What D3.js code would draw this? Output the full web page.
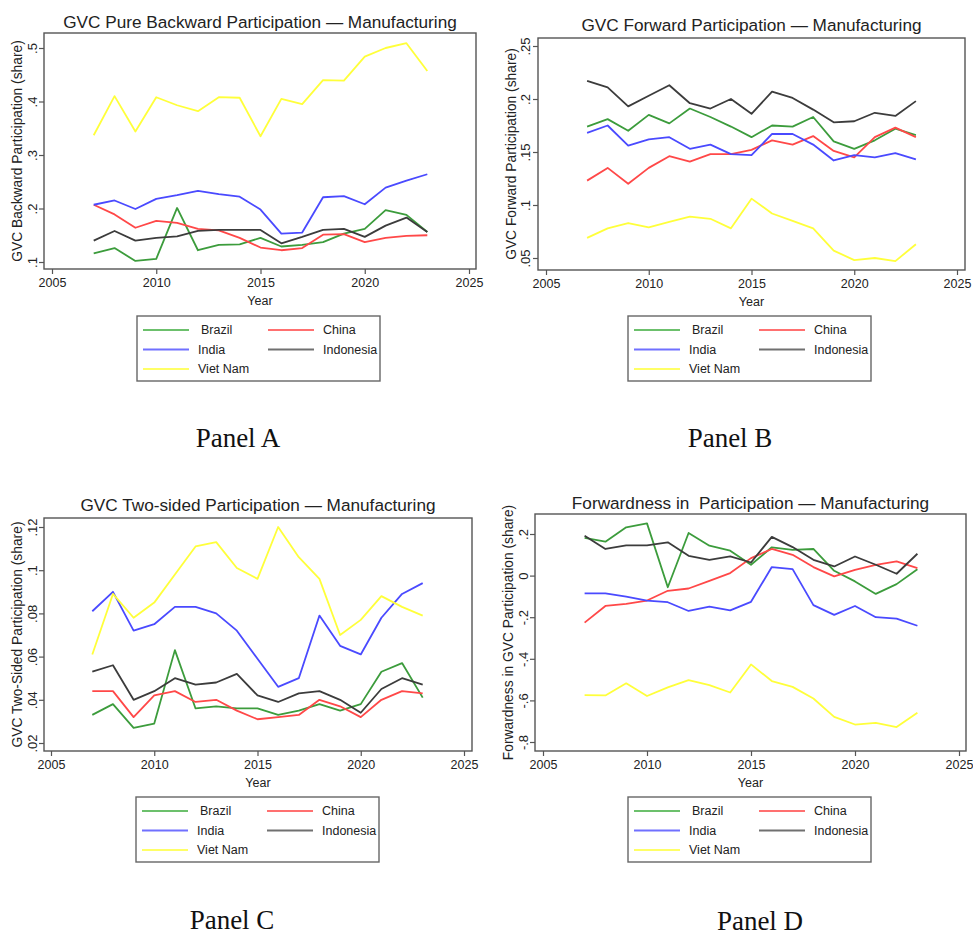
<!DOCTYPE html>
<html>
<head>
<meta charset="utf-8">
<script src="https://cdn.jsdelivr.net/npm/d3@7"></script>
<style>
  body { margin: 0; background: #fff; }
  text { font-family: "Liberation Sans", Arial, sans-serif; fill: #222; white-space: pre; }
  .panel-label { font-family: "Liberation Serif", "Times New Roman", serif; fill: #111; }
</style>
</head>
<body>
<script>
// years 2007-2023, values
const years = [2007, 2008, 2009, 2010, 2011, 2012, 2013, 2014, 2015, 2016, 2017, 2018, 2019, 2020, 2021, 2022, 2023];
const countries = ["Brazil", "China", "India", "Indonesia", "Viet Nam"];
const colors = ["#3c9c3c", "#ff4848", "#4a4aff", "#3c3c3c", "#ffff3a"];
const legendColors = ["#6cc06c", "#ff7070", "#7070ff", "#707070", "#ffff66"];
const xTicks = [2005, 2010, 2015, 2020, 2025];

// Panel A: pure backward participation
const backBrazil = [.116, .126, .102, .106, .201, .122, .132, .133, .145, .129, .132, .137, .153, .162, .197, .188, .156];
const backChina = [.207, .189, .164, .177, .173, .162, .159, .145, .127, .122, .126, .151, .152, .137, .145, .149, .150];
const backIndia = [.207, .215, .199, .218, .225, .233, .227, .222, .198, .153, .155, .221, .223, .208, .239, .252, .264];
const backIndonesia = [.140, .158, .140, .145, .148, .158, .160, .160, .160, .135, .147, .160, .162, .147, .168, .183, .156];
const backVietNam = [.337, .410, .344, .408, .393, .382, .408, .407, .335, .405, .395, .440, .439, .484, .500, .509, .457];
const backTicks = [.1, .2, .3, .4, .5];

// Panel B: forward participation
const fwdBrazil = [.174, .181, .170, .185, .177, .191, .183, .174, .164, .175, .174, .183, .160, .153, .161, .172, .166];
const fwdChina = [.123, .135, .120, .135, .146, .141, .148, .148, .152, .161, .157, .165, .151, .145, .164, .173, .164];
const fwdIndia = [.168, .175, .156, .162, .164, .153, .157, .148, .147, .167, .167, .157, .142, .147, .145, .149, .143];
const fwdIndonesia = [.217, .211, .193, .203, .213, .196, .191, .200, .186, .207, .201, .190, .178, .179, .187, .184, .198];
const fwdVietNam = [.069, .078, .083, .079, .084, .089, .087, .078, .106, .092, .085, .078, .057, .048, .050, .047, .063];
const fwdTicks = [.05, .1, .15, .2, .25];

// Panel C: two-sided participation
const twoBrazil = [.033, .038, .027, .029, .063, .036, .037, .036, .036, .033, .035, .038, .035, .038, .053, .057, .041];
const twoChina = [.044, .044, .032, .042, .044, .039, .040, .035, .031, .032, .033, .040, .037, .032, .040, .044, .043];
const twoIndia = [.081, .090, .072, .075, .083, .083, .080, .072, .059, .046, .050, .079, .065, .061, .078, .089, .094];
const twoIndonesia = [.053, .056, .040, .044, .050, .047, .048, .052, .042, .039, .043, .044, .040, .034, .045, .050, .047];
const twoVietNam = [.061, .089, .078, .085, .098, .111, .113, .101, .096, .120, .106, .096, .070, .077, .088, .083, .079];
const twoTicks = [.02, .04, .06, .08, .1, .12];

// Panel D: forwardness
const fwdnBrazil = [.181, .163, .232, .251, -.056, .205, .144, .120, .052, .136, .124, .128, .023, -.028, -.088, -.041, .031];
const fwdnChina = [-.226, -.146, -.136, -.120, -.073, -.062, -.025, .012, .084, .128, .100, .041, -.004, .028, .052, .068, .036];
const fwdnIndia = [-.085, -.085, -.101, -.120, -.128, -.170, -.149, -.167, -.126, .041, .031, -.142, -.189, -.146, -.200, -.207, -.241];
const fwdnIndonesia = [.192, .128, .145, .145, .160, .095, .076, .092, .063, .186, .137, .076, .044, .092, .052, .009, .105];
const fwdnVietNam = [-.575, -.576, -.518, -.579, -.537, -.503, -.527, -.562, -.427, -.507, -.535, -.591, -.679, -.716, -.708, -.728, -.659];
const fwdnTicks = [-.8, -.6, -.4, -.2, 0, .2];

const width = 973;
const height = 935;

const svg = d3.select("body")
	.append("svg")
	.attr("width", width)
	.attr("height", height);

// Stata style numbers: .5 rather than 0.5
function fmt(v) {
	return String(+v.toFixed(3)).replace(/^(-?)0\./, "$1.");
}

const panels = [
	{ title: "GVC Pure Backward Participation \u2014 Manufacturing", ylab: "GVC Backward Participation (share)",
	  series: [backBrazil, backChina, backIndia, backIndonesia, backVietNam], ticks: backTicks,
	  box: [44, 33, 476, 269], xr: [52, 469], yr: [262, 48], titleY: 28, ylabX: 17, tickX: 32,
	  legend: [137, 316], label: "Panel A", labelX: 238, labelY: 447 },
	{ title: "GVC Forward Participation \u2014 Manufacturing", ylab: "GVC Forward Participation (share)",
	  series: [fwdBrazil, fwdChina, fwdIndia, fwdIndonesia, fwdVietNam], ticks: fwdTicks,
	  box: [538, 38, 965, 270], xr: [546, 957], yr: [258, 46], titleY: 31, ylabX: 511, tickX: 525,
	  legend: [628, 316], label: "Panel B", labelX: 730, labelY: 447 },
	{ title: "GVC Two-sided Participation \u2014 Manufacturing", ylab: "GVC Two-Sided Participation (share)",
	  series: [twoBrazil, twoChina, twoIndia, twoIndonesia, twoVietNam], ticks: twoTicks,
	  box: [44, 518, 472, 751], xr: [51, 464], yr: [743, 527], titleY: 511, ylabX: 17, tickX: 32,
	  legend: [136, 797], label: "Panel C", labelX: 232, labelY: 929 },
	{ title: "Forwardness in  Participation \u2014 Manufacturing", ylab: "Forwardness in GVC Participation (share)",
	  series: [fwdnBrazil, fwdnChina, fwdnIndia, fwdnIndonesia, fwdnVietNam], ticks: fwdnTicks,
	  box: [535, 514, 966, 751], xr: [543, 959], yr: [742, 534], titleY: 509, ylabX: 508, tickX: 523,
	  legend: [628, 797], label: "Panel D", labelX: 760, labelY: 930 }
];

panels.forEach(function(p) {
	const g = svg.append("g");
	const x = d3.scaleLinear().domain([2005, 2025]).range(p.xr);
	const y = d3.scaleLinear().domain([p.ticks[0], p.ticks[p.ticks.length - 1]]).range(p.yr);
	const [x0, y0, x1, y1] = p.box;

	// frame
	g.append("rect")
		.attr("x", x0).attr("y", y0)
		.attr("width", x1 - x0).attr("height", y1 - y0)
		.attr("fill", "none")
		.attr("stroke", "#555")
		.attr("stroke-width", 1.4);

	// x axis ticks
	const xa = g.append("g")
		.attr("transform", "translate(0," + y1 + ")")
		.call(d3.axisBottom(x).tickValues(xTicks).tickFormat(d3.format("d")).tickSize(5).tickPadding(4));
	xa.select(".domain").remove();
	xa.selectAll("line").attr("stroke", "#555").attr("stroke-width", 1.2);
	xa.selectAll("text").attr("font-size", 12.5).attr("fill", "#222")
		.attr("font-family", "Liberation Sans, Arial, sans-serif");

	// y axis ticks, labels rotated like Stata
	const ya = g.append("g")
		.attr("transform", "translate(" + x0 + ",0)")
		.call(d3.axisLeft(y).tickValues(p.ticks).tickFormat(fmt).tickSize(5));
	ya.select(".domain").remove();
	ya.selectAll("line").attr("stroke", "#555").attr("stroke-width", 1.2);
	ya.selectAll("text")
		.attr("font-size", 13).attr("fill", "#222")
		.attr("font-family", "Liberation Sans, Arial, sans-serif")
		.attr("x", null).attr("dy", null)
		.attr("text-anchor", "middle")
		.attr("transform", "translate(" + (p.tickX - x0) + ",0) rotate(-90)")
		.attr("y", 0)
		.attr("dominant-baseline", "central");

	// title
	g.append("text")
		.attr("x", (x0 + x1) / 2)
		.attr("y", p.titleY)
		.attr("text-anchor", "middle")
		.attr("font-size", 17.2)
		.text(p.title);

	// axis titles
	g.append("text")
		.attr("x", (x0 + x1) / 2)
		.attr("y", y1 + 36)
		.attr("text-anchor", "middle")
		.attr("font-size", 12.5)
		.text("Year");
	g.append("text")
		.attr("transform", "translate(" + p.ylabX + "," + (y0 + y1) / 2 + ") rotate(-90)")
		.attr("text-anchor", "middle")
		.attr("dominant-baseline", "central")
		.attr("font-size", 13.8)
		.text(p.ylab);

	// lines
	const line = d3.line()
		.x(function(d, i) { return x(years[i]); })
		.y(function(d) { return y(d); });
	p.series.forEach(function(s, k) {
		g.append("path")
			.datum(s)
			.attr("fill", "none")
			.attr("stroke", colors[k])
			.attr("stroke-width", 1.8)
			.attr("stroke-linejoin", "round")
			.attr("d", line);
	});

	// legend
	const [lx, ly] = p.legend;
	const lg = g.append("g").attr("transform", "translate(" + lx + "," + ly + ")");
	lg.append("rect")
		.attr("width", 243).attr("height", 65)
		.attr("fill", "#fff")
		.attr("stroke", "#666")
		.attr("stroke-width", 1.4);
	countries.forEach(function(c, k) {
		const col = k % 2, row = Math.floor(k / 2);
		const ox = 6 + col * 125, oy = 14 + row * 19.5;
		lg.append("line")
			.attr("x1", ox).attr("x2", ox + 46)
			.attr("y1", oy).attr("y2", oy)
			.attr("stroke", legendColors[k])
			.attr("stroke-width", 1.8);
		lg.append("text")
			.attr("x", ox + (k === 0 ? 58 : 55))
			.attr("y", oy)
			.attr("dominant-baseline", "central")
			.attr("font-size", 12.5)
			.text(c);
	});

	// panel label
	svg.append("text")
		.attr("class", "panel-label")
		.attr("x", p.labelX)
		.attr("y", p.labelY)
		.attr("text-anchor", "middle")
		.attr("font-size", 27)
		.text(p.label);
});
</script>
</body>
</html>
